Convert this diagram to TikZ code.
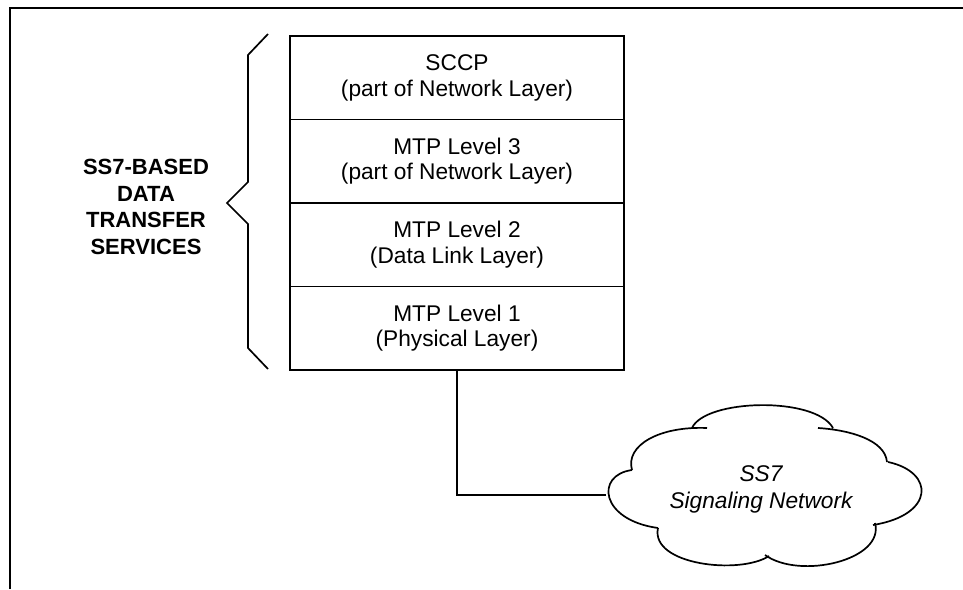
\documentclass[tikz,border=0pt]{standalone}
\usepackage{fontspec}
\setmainfont{Liberation Sans}
\begin{document}
\begin{tikzpicture}[x=1pt,y=-1pt,
  thin line/.style={line width=1.7pt, line join=miter},
  layerbox/.style={draw, thin line, minimum width=334pt, minimum height=83.5pt,
    inner sep=0pt, align=center, font=\fontsize{22.7}{25.5}\selectfont},
  sidelabel/.style={align=center, font=\fontsize{22}{26.7}\selectfont\bfseries},
  cloudlabel/.style={align=center, font=\fontsize{22.7}{27}\selectfont\itshape}]
\useasboundingbox (0,0) rectangle (963,589);
% frame
\draw[line width=2.4pt] (10,589) -- (10,8) -- (963,8);
% layer stack
\node[layerbox] (sccp) at (457,77.75) {SCCP\\(part of Network Layer)};
\node[layerbox] (l3) at (457,161.25) {MTP Level 3\\(part of Network Layer)};
\node[layerbox] (l2) at (457,244.75) {MTP Level 2\\(Data Link Layer)};
\node[layerbox] (l1) at (457,328.25) {MTP Level 1\\(Physical Layer)};
% brace
\draw[thin line] (268,34) -- (248,55) -- (248,182) -- (227,203) -- (248,224) -- (248,348) -- (268,369);
\node[sidelabel] (svc) at (146,207) {SS7-BASED\\DATA\\TRANSFER\\SERVICES};
% cloud
\draw[thin line, line join=round]
  (632,470) .. controls (625,445) and (660,426) .. (707,428)
  (692,428) .. controls (705,399) and (815,396) .. (833,428)
  (818,428) .. controls (850,430) and (885,440) .. (887,462)
  (888,462) .. controls (935,472) and (935,515) .. (873,525)
  (875,523) .. controls (885,560) and (800,580) .. (765,555)
  (769,556) .. controls (740,575) and (650,565) .. (658,528)
  (658,528) .. controls (600,520) and (595,475) .. (632,470);
\node[cloudlabel] (net) at (761,489) {SS7\\Signaling Network};
\coordinate (cloudw) at (606,495);
% connector
\draw[thin line] (l1.south) |- (cloudw);
\end{tikzpicture}
\end{document}
